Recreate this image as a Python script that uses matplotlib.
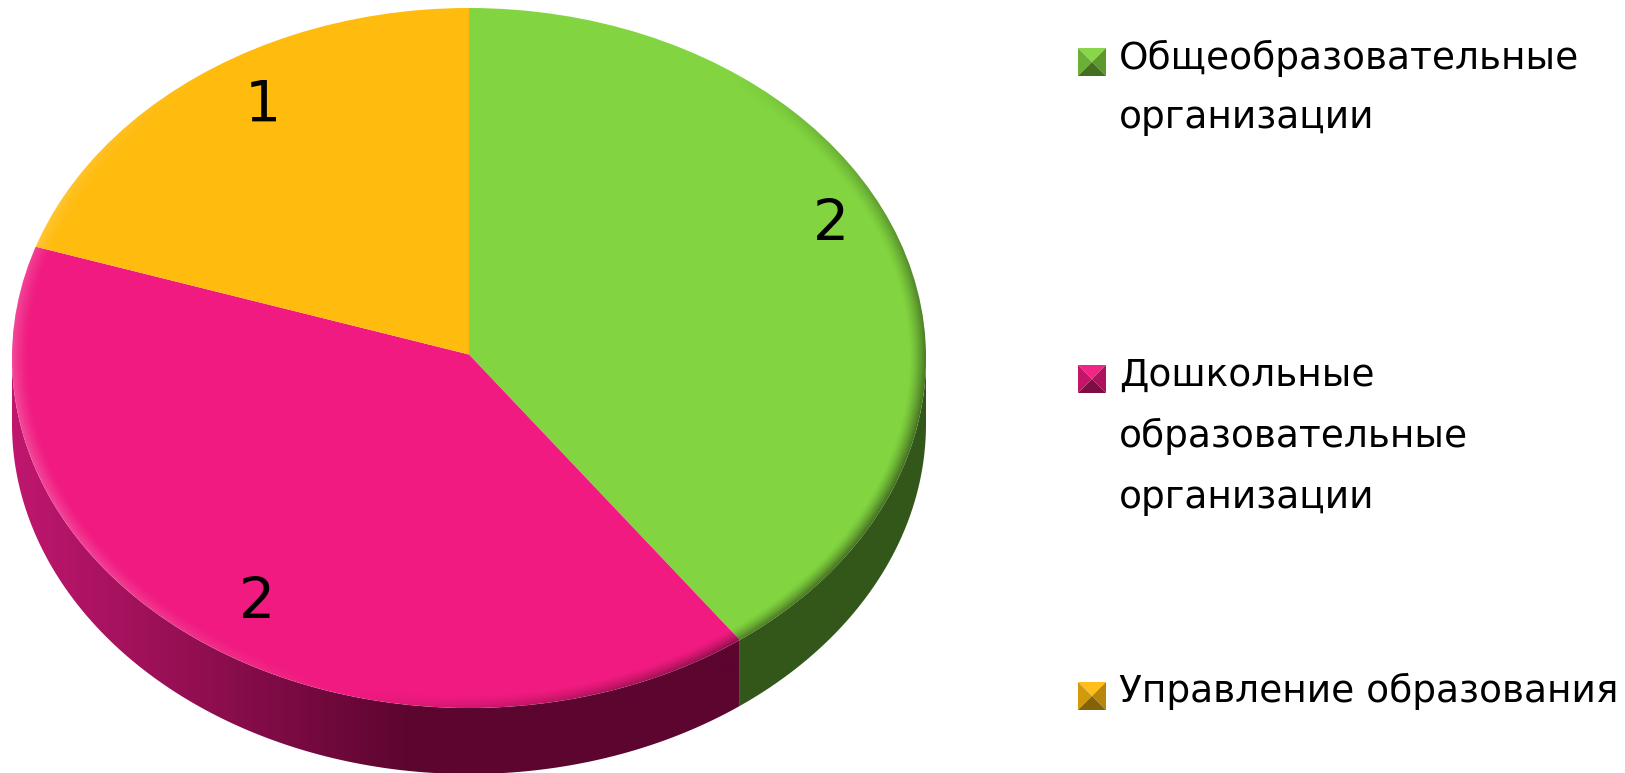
import numpy as np
import matplotlib
matplotlib.use("Agg")
import matplotlib.pyplot as plt
from matplotlib.patches import Polygon, Ellipse
from matplotlib.colors import to_rgb

categories = ["Общеобразовательные\nорганизации",
              "Дошкольные\nобразовательные\nорганизации",
              "Управление образования"]
values = [2, 2, 1]
colors = ["#82d540", "#f01a80", "#ffbb0e"]
wall_left = ["#33571a", "#c0176f", "#8a6a08"]
wall_right = ["#33571a", "#5c052f", "#8a6a08"]

W, H = 1625, 773
RX, RY, CX, CY, DEPTH = 457.0, 350.0, 469.0, 358.0, 66.0
APEX = 3.5 / RY   # the apex sits slightly above the ellipse centre (perspective)

fig = plt.figure(figsize=(W / 100, H / 100), dpi=100, facecolor="white")
ax = fig.add_axes([0, 0, 1, 1])

def set_limits():
    ax.set_xlim(-CX / RX, (W - CX) / RX)
    ax.set_ylim((CY - H) / RY, CY / RY)

# top surface, clipped to the rim ellipse
wedges, _ = ax.pie(values, colors=colors, startangle=90, counterclock=False,
                   wedgeprops=dict(linewidth=0), radius=1.1, center=(0, APEX))
ax.set_aspect("auto")
set_limits()
ax.axis("off")
top_clip = Ellipse((0, 0), 2, 2, transform=ax.transData, facecolor="none", edgecolor="none")
ax.add_patch(top_clip)
for w in wedges:
    w.set_zorder(5)
    w.set_clip_on(True)
    w.set_clip_path(top_clip)

dy = DEPTH / RY
fractions = np.cumsum([0] + values) / np.sum(values) * 360.0  # clockwise from top

def rim_angle(a):
    """Clockwise angle on the rim reached by the ray at angle a from the apex."""
    if a % 180 == 0:
        return a
    s, c = np.sin(np.radians(a)), np.cos(np.radians(a))
    t = -APEX * c + np.sqrt((APEX * c) ** 2 + 1 - APEX ** 2)
    return np.degrees(np.arctan2(s * t, APEX + c * t)) % 360

def wall_path(a0, a1):
    t = np.radians(np.linspace(a0, a1, 200))
    x, y = np.sin(t), np.cos(t)
    pts = np.r_[np.c_[x, y], np.c_[x[::-1], y[::-1] - dy]]
    return Polygon(pts, closed=True, transform=ax.transData, facecolor="none", edgecolor="none")

# side walls (front half of the disc only, clockwise angle 90..270)
for i, v in enumerate(values):
    a0, a1 = max(rim_angle(fractions[i]), 90.0), min(rim_angle(fractions[i + 1]), 270.0)
    if a1 <= a0:
        continue
    poly = wall_path(a0, a1)
    ax.add_patch(poly)
    c0, c1 = np.array(to_rgb(wall_left[i])), np.array(to_rgb(wall_right[i]))
    f = np.clip(np.linspace(0, 1, 512) / 0.55, 0, 1)[None, :, None]
    img = c0[None, None, :] * (1 - f) + c1[None, None, :] * f
    xa, xb = sorted((np.sin(np.radians(a0)), np.sin(np.radians(a1))))
    if a0 <= 90:
        xb = 1.0
    if a1 >= 270:
        xa = -1.0
    im = ax.imshow(img, extent=[xa, xb, -1.5, 0.5], aspect="auto", zorder=2,
                   interpolation="bilinear")
    im.set_clip_path(poly)
set_limits()

# soft bevel around the rim of the top surface
n = 1400
xs = np.linspace(-1.01, 1.01, n)
X, Y = np.meshgrid(xs, xs)
R = np.hypot(X, Y)
band = np.clip((R - 0.962) / 0.038, 0, 1) ** 1.4
ang = np.degrees(np.arctan2(X, Y)) % 360
dark_w = np.clip(np.sin(np.radians(ang - 35) * 180 / 160), 0, 1) * ((ang > 35) & (ang < 195))
light_w = np.clip(np.sin(np.radians(ang - 195) * 180 / 130), 0, 1) * ((ang > 195) & (ang < 325))
rgba = np.zeros((n, n, 4))
rgba[..., :3] = (light_w > 0)[..., None] * 1.0
rgba[..., 3] = band * (0.5 * dark_w + 0.22 * light_w)
rim = ax.imshow(rgba, extent=[-1.01, 1.01, -1.01, 1.01], origin="lower", aspect="auto",
                zorder=6, interpolation="bilinear")
clip = Ellipse((0, 0), 2, 2, transform=ax.transData, facecolor="none", edgecolor="none")
ax.add_patch(clip)
rim.set_clip_path(clip)
set_limits()

def P(x, y):
    return x / W, 1 - y / H

# data labels
label_pos = [(831, 226), (257, 603), (263, 106)]
for (x, y), v in zip(label_pos, values):
    ax.text(*P(x, y), str(v), transform=fig.transFigure, fontsize=41, family="DejaVu Sans",
            ha="center", va="center", color="black", zorder=10)

# legend
def shade(c, k):
    c = np.array(to_rgb(c))
    return tuple(np.clip(c * k if k <= 1 else c + (1 - c) * (k - 1), 0, 1))

legend_y = [62, 379, 696]
text_y = [[58, 118], [376, 436, 498], [691]]
S = 14
for name, col, my, ty in zip(categories, colors, legend_y, text_y):
    x0, x1, y0, y1 = 1078, 1106, my - S, my + S
    cx, cy = (x0 + x1) / 2, (y0 + y1) / 2
    tris = [([(x0, y0), (x1, y0), (cx, cy)], 1.05),
            ([(x0, y0), (x0, y1), (cx, cy)], 0.82),
            ([(x1, y0), (x1, y1), (cx, cy)], 0.72),
            ([(x0, y1), (x1, y1), (cx, cy)], 0.52)]
    for pts, k in tris:
        fig.add_artist(Polygon([P(*p) for p in pts], closed=True, transform=fig.transFigure,
                               facecolor=shade(col, k), edgecolor="none"))
    for line, y in zip(name.split("\n"), ty):
        fig.text(*P(1119, y), line, fontsize=27, family="DejaVu Sans", ha="left", va="center",
                 color="black")

fig.savefig("out.png", dpi=100, facecolor="white")
